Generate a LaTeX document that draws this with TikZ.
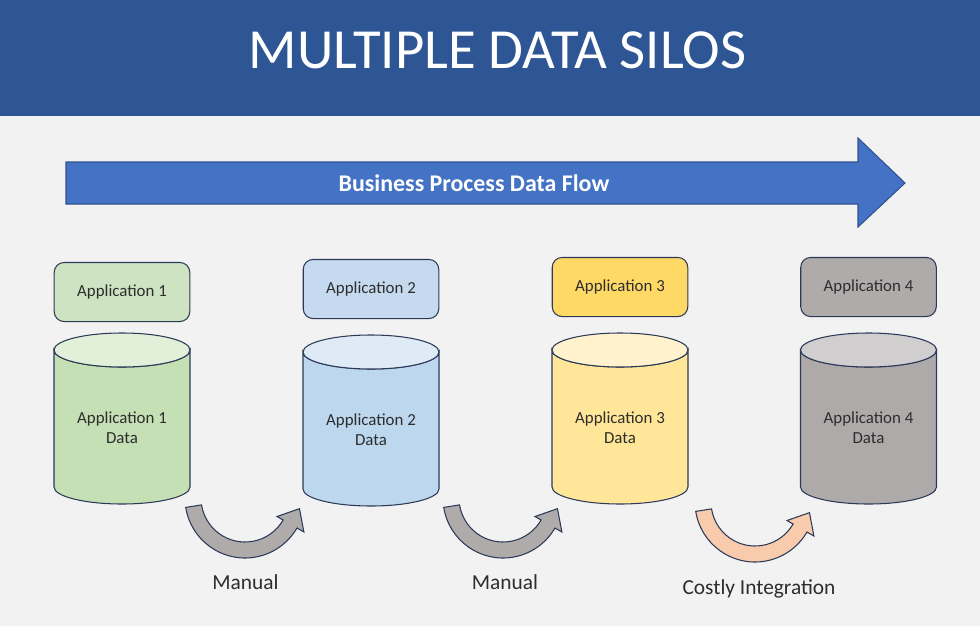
\documentclass[tikz,border=0pt]{standalone}
\usepackage{fontspec}
\setmainfont{Carlito}
\usepackage{tikz}
\usetikzlibrary{calc}
\definecolor{colbg}{RGB}{242,242,242}
\definecolor{colbanner}{RGB}{46,85,148}
\definecolor{colflow}{RGB}{68,114,196}
\definecolor{colflowedge}{RGB}{47,82,143}
\definecolor{coledge}{RGB}{44,58,88}
\definecolor{coltext}{RGB}{45,45,45}
\definecolor{colbox1}{RGB}{206,227,193}
\definecolor{colbody1}{RGB}{197,224,180}
\definecolor{coltop1}{RGB}{226,239,217}
\definecolor{colbox2}{RGB}{197,217,239}
\definecolor{colbody2}{RGB}{189,215,238}
\definecolor{coltop2}{RGB}{222,235,247}
\definecolor{colbox3}{RGB}{255,217,102}
\definecolor{colbody3}{RGB}{255,230,153}
\definecolor{coltop3}{RGB}{255,242,204}
\definecolor{colbox4}{RGB}{175,171,171}
\definecolor{colbody4}{RGB}{174,170,170}
\definecolor{coltop4}{RGB}{208,206,206}
\colorlet{colmanual}{colbox4}
\definecolor{colcostly}{RGB}{248,203,173}
\newcommand{\rx}{68}
\newcommand{\hcyl}{137}
\tikzstyle{edge}=[draw=coledge, line width=0.75pt]
\tikzstyle{appbox}=[edge, rounded corners=7pt, minimum width=96.4pt, minimum height=42pt, inner sep=0, font=\fontsize{12}{14}\selectfont, text=coltext]
\tikzstyle{datatext}=[align=center, inner sep=0, font=\fontsize{12}{14.2}\selectfont, text=coltext]
\tikzstyle{steptext}=[anchor=base, inner sep=0, font=\fontsize{15.2}{18}\selectfont, text=coltext]
\newcommand{\silo}[4]{
  \node[appbox, fill=colbox#1] (app#1) at (#2,#3) {Application #1};
  \draw[edge, fill=colbody#1] (#2-\rx,#4) -- ++(0,\hcyl) arc (180:0:68 and 17) -- (#2+\rx,#4) arc (0:180:68 and 17) -- cycle;
  \draw[edge, fill=coltop#1] (#2,#4) ellipse (68 and 17);
  \node[datatext] (data#1) at (#2,#4+78) {Application #1\\Data};
}
\newcommand{\bend}[2]{
  \draw[edge, join=miter, fill=#2] (#1)++(171:60) arc (171:30:60) -- ($(#1)+(30:68)$)
    -- ($(#1)+(30:52.5)+(-60:18)$) -- ($(#1)+(30:37)$) -- ($(#1)+(30:44)$) arc (30:171:44) -- cycle;
}
\begin{document}
\begin{tikzpicture}[x=0.025cm, y=-0.025cm]
\useasboundingbox (0,0) rectangle (980,626);
\fill[colbg] (0,0) rectangle (980,626);

%banner
\fill[colbanner] (0,0) rectangle (980,116);
\node[text=white, font=\fontsize{40.3}{46}\selectfont] (title) at (497.5,50.5) {MULTIPLE DATA SILOS};

%flow
\draw[draw=colflowedge, line width=0.75pt, fill=colflow] (66,162) -- (858,162) -- (858,138) -- (905,183)
  -- (858,227) -- (858,204) -- (66,204) -- cycle;
\node[text=white, font=\fontsize{17}{20}\selectfont\bfseries] (flow) at (474,183.5) {Business Process Data Flow};

%silos
\foreach \n/\x/\yb/\yc in {1/122/292/350, 2/371/289/352, 3/620/287/350, 4/868.5/287/350}
  {\silo{\n}{\x}{\yb}{\yc}}

%bends
\coordinate (turn1) at (245,498);
\coordinate (turn2) at (503,498);
\coordinate (turn3) at (755,502);
\bend{turn1}{colmanual}
\bend{turn2}{colmanual}
\bend{turn3}{colcostly}

\node[steptext] (manual1) at (245.5,589) {Manual};
\node[steptext] (manual2) at (505,589) {Manual};
\node[steptext] (costly) at (759,594) {Costly Integration};
\end{tikzpicture}
\end{document}
